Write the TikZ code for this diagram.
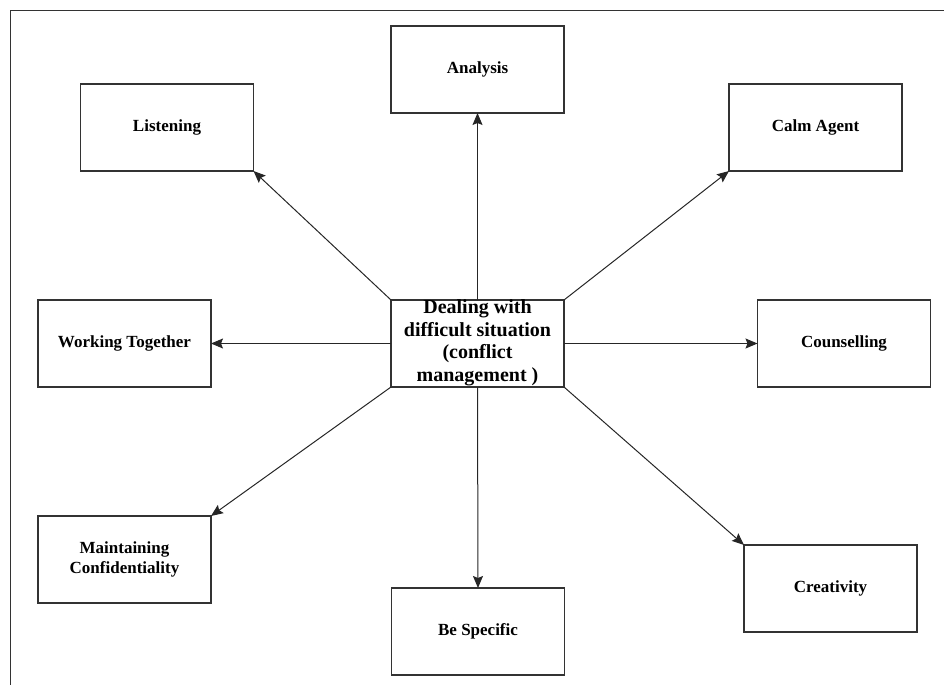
\documentclass[tikz,border=0pt]{standalone}
\usepackage{fontspec}
\setmainfont{Liberation Serif}
\usetikzlibrary{arrows.meta}
\tikzset{
  box/.style={draw=black!80, line width=1.4pt, rectangle, minimum width=173pt, minimum height=87pt, inner sep=0pt, outer sep=0pt, align=center, font=\fontsize{17}{20}\selectfont\bfseries},
  conn/.style={draw=black!85, line width=1pt, -{Stealth[length=12pt,width=10pt,inset=2pt]}},
  frame/.style={draw=black!80, line width=1.4pt}
}
\begin{document}
\begin{tikzpicture}[x=1pt,y=-1pt]
\useasboundingbox (0,0) rectangle (944,685);
\coordinate (f1) at (944,10.5);
\coordinate (f2) at (10.5,10.5);
\coordinate (f3) at (10.5,685);
\draw[frame] (f1) -- (f2) -- (f3);

\node[box] (c) at (477.5,343.5) {};
\node[font=\fontsize{20}{22.5}\selectfont\bfseries, align=center, inner sep=0pt] (ct) at (477.5,343) {Dealing with\\difficult situation\\(conflict\\management )};

\node[box] (ana) at (477.5,69.5) {Analysis};
\node[box] (lis) at (167,127.5) {Listening};
\node[box] (calm) at (815.5,127.5) {Calm Agent};
\node[box] (work) at (124.5,343.5) {Working Together};
\node[box] (coun) at (844,343.5) {Counselling};
\node[box] (main) at (124.5,559.5) {Maintaining\\Confidentiality};
\node[box] (spec) at (478,631.5) {Be Specific};
\node[box] (crea) at (830.5,588.5) {Creativity};

\draw[conn] (c.north) -- (ana.south);
\draw[conn] (c.north west) -- (lis.south east);
\draw[conn] (c.north east) -- (calm.south west);
\draw[conn] (c.west) -- (work.east);
\draw[conn] (c.east) -- (coun.west);
\draw[conn] (c.south west) -- (main.north east);
\draw[conn] (c.south) -- (spec.north);
\draw[conn] (c.south east) -- (crea.north west);
\end{tikzpicture}
\end{document}
